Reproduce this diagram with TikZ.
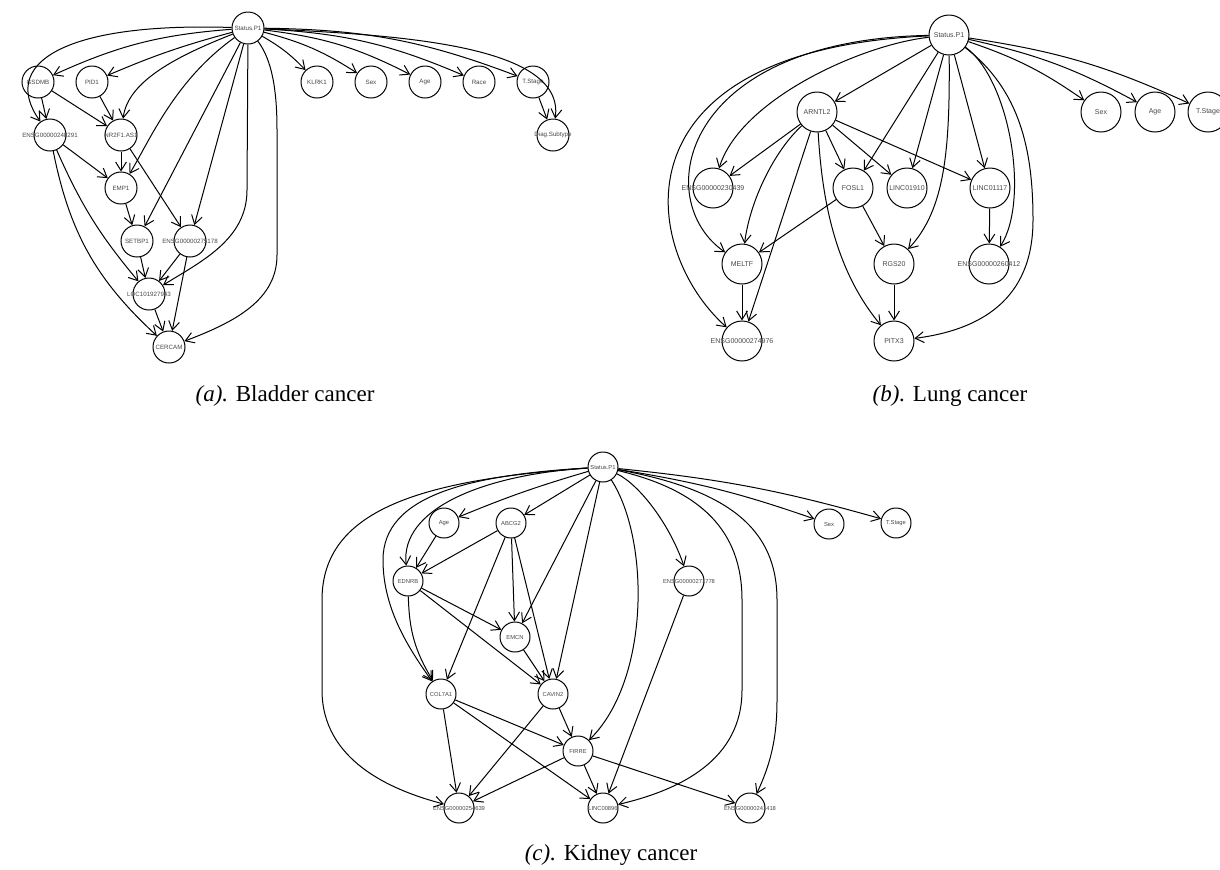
\documentclass[tikz,border=0pt]{standalone}
\usepackage{fontspec}
\setmainfont{Liberation Serif}
\setsansfont{Liberation Sans}
\usetikzlibrary{arrows.meta}
\newcommand{\nlab}[1]{\makebox[0pt]{#1}}
\begin{document}
\begin{tikzpicture}[x=0.5pt,y=-0.5pt,
  gnode/.style={circle,draw,line width=0.5pt,inner sep=0pt,text=black!72},
  sa/.style={gnode,minimum size=16pt,font=\sffamily\fontsize{3.1}{3.6}\selectfont},
  sb/.style={gnode,minimum size=20pt,font=\sffamily\fontsize{3.5}{4}\selectfont},
  sc/.style={gnode,minimum size=15pt,font=\sffamily\fontsize{2.9}{3.4}\selectfont},
  edge/.style={line width=0.5pt,-{Straight Barb[length=4.3pt,width=5.4pt]}},
  captext/.style={font=\fontsize{11.5}{13}\selectfont}
]
\useasboundingbox (0,0) rectangle (1220,869);
\clip (0,0) rectangle (1220,869);

% ---------------- (a) Bladder cancer ----------------
\node[sa] (aS)   at (248,28)  {\nlab{Status.P1}};
\node[sa] (aG)   at (38,82)   {\nlab{GSDMB}};
\node[sa] (aP)   at (92,82)   {\nlab{PID1}};
\node[sa] (aE1)  at (50,135)  {\nlab{ENSG00000248291}};
\node[sa] (aN)   at (121,135) {\nlab{NR2F1.AS1}};
\node[sa] (aM)   at (121,188) {\nlab{EMP1}};
\node[sa] (aSB)  at (137,241) {\nlab{SETBP1}};
\node[sa] (aE2)  at (190,241) {\nlab{ENSG00000275178}};
\node[sa] (aL)   at (149,294) {\nlab{LOC101927943}};
\node[sa] (aC)   at (169,347) {\nlab{CERCAM}};
\node[sa] (aK)   at (317,82)  {\nlab{KLRK1}};
\node[sa] (aSex) at (371,82)  {\nlab{Sex}};
\node[sa] (aAge) at (425,82)  {\nlab{Age}};
\node[sa] (aR)   at (479,82)  {\nlab{Race}};
\node[sa] (aT)   at (533,82)  {\nlab{T.Stage}};
\node[sa] (aD)   at (553,135) {\nlab{Diag.Subtype}};

\draw[edge] (aS) to[bend right=10] (aG);
\draw[edge] (aS) to[bend right=4] (aP);
\draw[edge] (aS) .. controls (60,22) and (0,65) .. (aE1);
\draw[edge] (aS) .. controls (180,55) and (128,80) .. (aN);
\draw[edge] (aS) .. controls (175,80) and (150,140) .. (aM);
\draw[edge] (aS) -- (aSB);
\draw[edge] (aS) -- (aE2);
\draw[edge] (aS) -- (247,190) .. controls (247,240) and (200,262) .. (aL);
\draw[edge] (aS) .. controls (272,60) and (277,90) .. (277,130) -- (277,255) .. controls (277,300) and (235,322) .. (aC);
\draw[edge] (aS) to[bend left=8] (aK);
\draw[edge] (aS) to[bend left=9] (aSex);
\draw[edge] (aS) to[bend left=10] (aAge);
\draw[edge] (aS) to[bend left=10] (aR);
\draw[edge] (aS) to[bend left=10] (aT);
\draw[edge] (aS) .. controls (400,35) and (565,45) .. (aD);
\draw[edge] (aG) -- (aE1);
\draw[edge] (aG) -- (aN);
\draw[edge] (aP) -- (aN);
\draw[edge] (aE1) -- (aM);
\draw[edge] (aE1) to[bend right=8] (aL);
\draw[edge] (aE1) to[bend right=18] (aC);
\draw[edge] (aN) -- (aM);
\draw[edge] (aN) -- (aE2);
\draw[edge] (aM) -- (aSB);
\draw[edge] (aSB) -- (aL);
\draw[edge] (aE2) -- (aL);
\draw[edge] (aE2) -- (aC);
\draw[edge] (aL) -- (aC);
\draw[edge] (aT) -- (aD);

\node[captext] (capa) at (285,396) {\textit{(a).} Bladder cancer};

% ---------------- (b) Lung cancer ----------------
\node[sb] (bS)   at (949,35)  {\nlab{Status.P1}};
\node[sb] (bA)   at (817,112) {\nlab{ARNTL2}};
\node[sb] (bE1)  at (713,188) {\nlab{ENSG00000230439}};
\node[sb] (bF)   at (853,188) {\nlab{FOSL1}};
\node[sb] (bL1)  at (907,188) {\nlab{LINC01910}};
\node[sb] (bL2)  at (990,188) {\nlab{LINC01117}};
\node[sb] (bSex) at (1101,112) {\nlab{Sex}};
\node[sb] (bAge) at (1155,112) {\nlab{Age}};
\node[sb] (bT)   at (1208,112) {\nlab{T.Stage}};
\node[sb] (bM)   at (742,264) {\nlab{MELTF}};
\node[sb] (bR)   at (894,264) {\nlab{RGS20}};
\node[sb] (bE2)  at (989,264) {\nlab{ENSG00000260412}};
\node[sb] (bE3)  at (742,341) {\nlab{ENSG00000274976}};
\node[sb] (bP)   at (894,341) {\nlab{PITX3}};

\draw[edge] (bS) -- (bA);
\draw[edge] (bS) .. controls (860,45) and (740,100) .. (bE1);
\draw[edge] (bS) .. controls (680,40) and (650,200) .. (bM);
\draw[edge] (bS) .. controls (610,50) and (640,250) .. (bE3);
\draw[edge] (bS) -- (bF);
\draw[edge] (bS) -- (bL1);
\draw[edge] (bS) .. controls (950,150) and (945,210) .. (bR);
\draw[edge] (bS) -- (bL2);
\draw[edge] (bS) .. controls (1010,80) and (1030,200) .. (bE2);
\draw[edge] (bS) .. controls (1020,90) and (1033,150) .. (1033,220) .. controls (1033,300) and (980,330) .. (bP);
\draw[edge] (bS) to[bend left=8] (bSex);
\draw[edge] (bS) to[bend left=8] (bAge);
\draw[edge] (bS) to[bend left=8] (bT);
\draw[edge] (bA) -- (bE1);
\draw[edge] (bA) .. controls (775,150) and (750,200) .. (bM);
\draw[edge] (bA) -- (bE3);
\draw[edge] (bA) .. controls (822,200) and (835,270) .. (bP);
\draw[edge] (bA) -- (bF);
\draw[edge] (bA) -- (bL1);
\draw[edge] (bA) -- (bL2);
\draw[edge] (bF) -- (bM);
\draw[edge] (bF) -- (bR);
\draw[edge] (bM) -- (bE3);
\draw[edge] (bR) -- (bP);
\draw[edge] (bL2) -- (bE2);

\node[captext] (capb) at (950,396) {\textit{(b).} Lung cancer};

% ---------------- (c) Kidney cancer ----------------
\node[sc] (cS)   at (603,467) {\nlab{Status.P1}};
\node[sc] (cAge) at (444,523) {\nlab{Age}};
\node[sc] (cAB)  at (511,523) {\nlab{ABCG2}};
\node[sc] (cED)  at (408,581) {\nlab{EDNRB}};
\node[sc] (cEM)  at (515,637) {\nlab{EMCN}};
\node[sc] (cCO)  at (441,694) {\nlab{COL7A1}};
\node[sc] (cCA)  at (553,694) {\nlab{CAVIN2}};
\node[sc] (cFI)  at (578,751) {\nlab{FIRRE}};
\node[sc] (cE1)  at (459,808) {\nlab{ENSG00000254639}};
\node[sc] (cLI)  at (603,808) {\nlab{LINC00896}};
\node[sc] (cE2)  at (750,808) {\nlab{ENSG00000241418}};
\node[sc] (cE3)  at (689,581) {\nlab{ENSG00000271778}};
\node[sc] (cSex) at (829,524) {\nlab{Sex}};
\node[sc] (cT)   at (896,523) {\nlab{T.Stage}};

\draw[edge] (cS) to[bend right=3] (cAge);
\draw[edge] (cS) -- (cAB);
\draw[edge] (cS) .. controls (480,475) and (400,510) .. (cED);
\draw[edge] (cS) .. controls (470,475) and (383,495) .. (383,560) .. controls (383,610) and (410,650) .. (cCO);
\draw[edge] (cS) .. controls (420,480) and (322,510) .. (322,600) -- (322,690) .. controls (322,760) and (390,790) .. (cE1);
\draw[edge] (cS) -- (cEM);
\draw[edge] (cS) -- (cCA);
\draw[edge] (cS) .. controls (650,540) and (650,680) .. (cFI);
\draw[edge] (cS) .. controls (640,485) and (670,525) .. (cE3);
\draw[edge] (cS) .. controls (700,490) and (742,530) .. (742,600) -- (742,690) .. controls (742,760) and (680,790) .. (cLI);
\draw[edge] (cS) .. controls (730,490) and (777,530) .. (777,600) -- (777,700) .. controls (777,740) and (770,765) .. (cE2);
\draw[edge] (cS) to[bend left=5] (cSex);
\draw[edge] (cS) to[bend left=5] (cT);
\draw[edge] (cAge) -- (cED);
\draw[edge] (cAB) -- (cED);
\draw[edge] (cAB) -- (cCO);
\draw[edge] (cAB) -- (cEM);
\draw[edge] (cAB) -- (cCA);
\draw[edge] (cED) -- (cEM);
\draw[edge] (cED) -- (cCA);
\draw[edge] (cED) to[bend right=15] (cCO);
\draw[edge] (cEM) -- (cCA);
\draw[edge] (cCO) -- (cFI);
\draw[edge] (cCO) -- (cE1);
\draw[edge] (cCO) -- (cLI);
\draw[edge] (cCA) -- (cFI);
\draw[edge] (cCA) -- (cE1);
\draw[edge] (cFI) -- (cE1);
\draw[edge] (cFI) -- (cLI);
\draw[edge] (cFI) -- (cE2);
\draw[edge] (cE3) -- (cLI);

\node[captext] (capc) at (611,855) {\textit{(c).} Kidney cancer};
\end{tikzpicture}
\end{document}
